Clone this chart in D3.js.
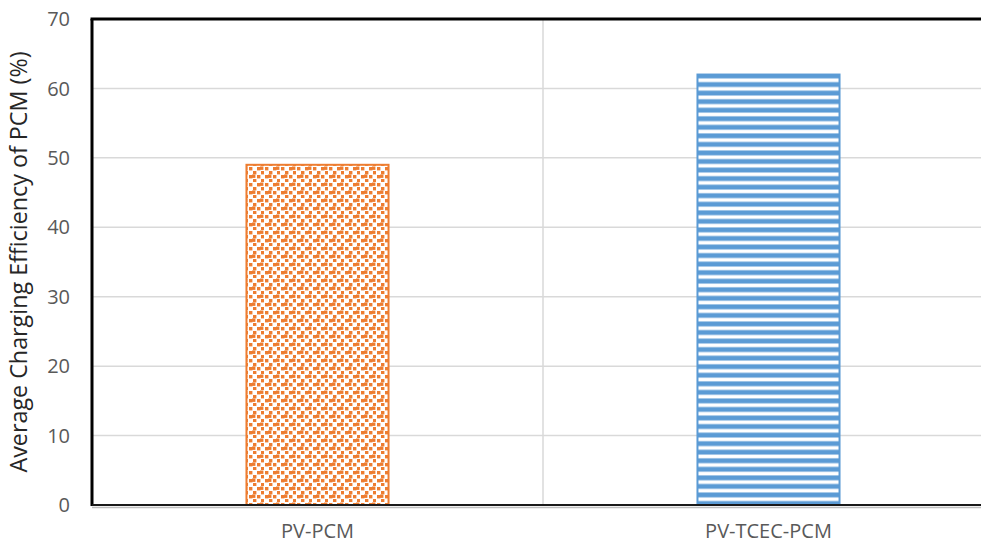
<!DOCTYPE html>
<html>
<head>
<meta charset="utf-8">
<script src="https://cdn.jsdelivr.net/npm/d3@7"></script>
<style>
  html, body { margin: 0; padding: 0; background: #fff; }
  svg { display: block; }
</style>
</head>
<body>
<svg id="chart" width="981" height="545"></svg>
<script>
// Chart data
const categories = ["PV-PCM", "PV-TCEC-PCM"];
const efficiency = [49, 62];
const yTicks = [0, 10, 20, 30, 40, 50, 60, 70];
const yLabel = "Average Charging Efficiency of PCM (%)";

const svg = d3.select("#chart");
const W = 981, H = 545;
const plotLeft = 92, plotTop = 19, plotBottom = 505;
const bandStep = 451;

const x = d3.scaleBand()
  .domain(categories)
  .range([plotLeft, plotLeft + bandStep * categories.length])
  .padding(0);
const barW = x.bandwidth() * 0.315;

const y = d3.scaleLinear().domain([0, 70]).range([plotBottom, plotTop]);

const font = "'Open Sans', 'Noto Sans', sans-serif";

// Fill patterns
const defs = svg.append("defs");

const conf = defs.append("pattern")
  .attr("id", "confetti")
  .attr("patternUnits", "userSpaceOnUse")
  .attr("width", 16).attr("height", 16)
  .attr("x", 248).attr("y", 166);
conf.append("rect").attr("width", 16).attr("height", 16).attr("fill", "#fff");
const squares = [
  [1, 1], [9, 1], [5, 5], [13, 5], [1, 9], [9, 9], [5, 13], [13, 13],
  [12, 0.5], [4, 8.5]
];
conf.selectAll("rect.sq").data(squares).join("rect")
  .attr("class", "sq")
  .attr("x", d => d[0]).attr("y", d => d[1])
  .attr("width", 3.4).attr("height", 3.4)
  .attr("fill", "#ED7D31");

const stripes = defs.append("pattern")
  .attr("id", "hstripes")
  .attr("patternUnits", "userSpaceOnUse")
  .attr("width", 10).attr("height", 8.55)
  .attr("x", 0).attr("y", 76);
stripes.append("rect").attr("width", 10).attr("height", 8.55).attr("fill", "#5B9BD5");
stripes.append("rect").attr("y", 2.4).attr("width", 10).attr("height", 3.7).attr("fill", "#fff");

const fills = ["url(#confetti)", "url(#hstripes)"];
const strokes = ["#ED7D31", "#5B9BD5"];

// Horizontal gridlines
svg.append("g")
  .selectAll("line")
  .data(yTicks.filter(t => t > 0 && t < 70))
  .join("line")
  .attr("x1", plotLeft).attr("x2", W)
  .attr("y1", d => y(d)).attr("y2", d => y(d))
  .attr("stroke", "#d9d9d9").attr("stroke-width", 1.5);

// Vertical gridline between categories
svg.append("line")
  .attr("x1", x(categories[1])).attr("x2", x(categories[1]))
  .attr("y1", plotTop).attr("y2", plotBottom)
  .attr("stroke", "#d9d9d9").attr("stroke-width", 1.5);

// Bars
svg.append("g")
  .selectAll("rect")
  .data(efficiency)
  .join("rect")
  .attr("x", (d, i) => x(categories[i]) + (x.bandwidth() - barW) / 2)
  .attr("y", d => y(d))
  .attr("width", barW)
  .attr("height", d => y(0) - y(d))
  .attr("fill", (d, i) => fills[i])
  .attr("stroke", (d, i) => strokes[i])
  .attr("stroke-width", 2);

// Frame: top border, left axis, bottom axis
svg.append("line")
  .attr("x1", plotLeft - 1.5).attr("x2", W)
  .attr("y1", plotTop).attr("y2", plotTop)
  .attr("stroke", "#000").attr("stroke-width", 3);
svg.append("line")
  .attr("x1", plotLeft).attr("x2", plotLeft)
  .attr("y1", plotTop).attr("y2", plotBottom + 1)
  .attr("stroke", "#000").attr("stroke-width", 3);
svg.append("line")
  .attr("x1", plotLeft).attr("x2", W)
  .attr("y1", plotBottom + 2.5).attr("y2", plotBottom + 2.5)
  .attr("stroke", "#bfbfbf").attr("stroke-width", 1.5);
svg.append("line")
  .attr("x1", plotLeft).attr("x2", W)
  .attr("y1", plotBottom).attr("y2", plotBottom)
  .attr("stroke", "#1a1a1a").attr("stroke-width", 2);

// Y tick labels
svg.append("g")
  .selectAll("text")
  .data(yTicks)
  .join("text")
  .attr("x", 70)
  .attr("y", d => y(d))
  .attr("dy", "0.36em")
  .attr("text-anchor", "end")
  .attr("font-family", font)
  .attr("font-size", 20)
  .attr("fill", "#595959")
  .text(d => d);

// X category labels
svg.append("g")
  .selectAll("text")
  .data(categories)
  .join("text")
  .attr("x", d => x(d) + x.bandwidth() / 2)
  .attr("y", 538)
  .attr("text-anchor", "middle")
  .attr("font-family", font)
  .attr("font-size", 20)
  .attr("fill", "#595959")
  .text(d => d);

// Y axis title
svg.append("text")
  .attr("transform", `translate(27, ${(plotTop + plotBottom) / 2}) rotate(-90)`)
  .attr("text-anchor", "middle")
  .attr("font-family", font)
  .attr("font-size", 23.3)
  .attr("fill", "#262626")
  .text(yLabel);
</script>
</body>
</html>
